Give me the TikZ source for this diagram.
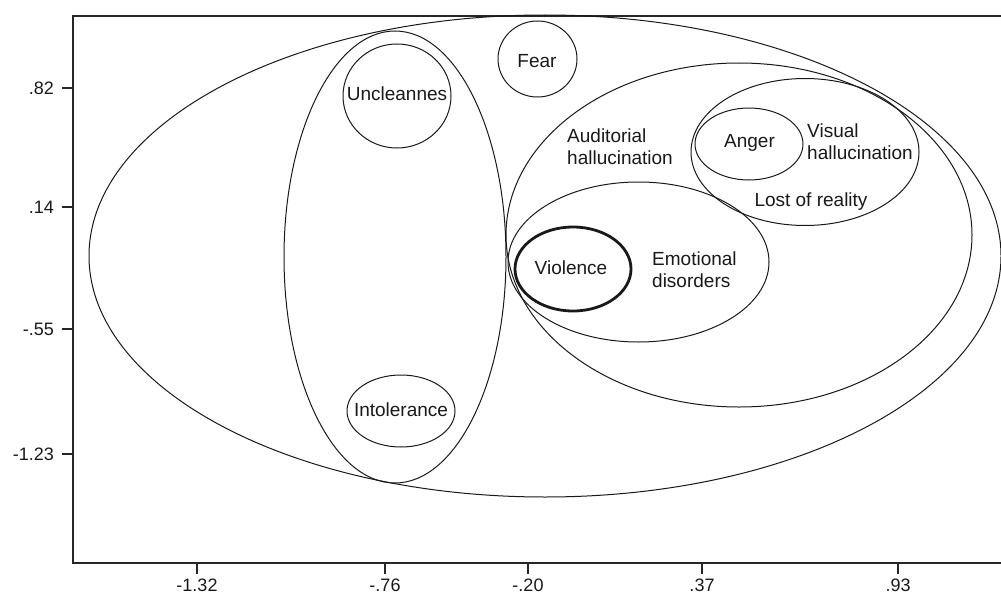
\documentclass[tikz,border=0pt]{standalone}
\usepackage{fontspec}
\setmainfont{Liberation Sans}
\usetikzlibrary{shapes.geometric}
\tikzset{
  ell/.style={draw=black!90, line width=1pt, ellipse, inner sep=0pt, outer sep=0pt},
  boldell/.style={ell, line width=2.8pt},
  lbl/.style={inner sep=0pt, font=\fontsize{19}{22}\selectfont, text=black!90},
  lbll/.style={lbl, align=left, anchor=west},
  axis/.style={line width=2.4pt, draw=black!85},
  tick/.style={line width=2.4pt, draw=black!85},
  ticklbl/.style={inner sep=0pt, font=\fontsize{18}{20}\selectfont, text=black!90}
}
\begin{document}
\begin{tikzpicture}[x=1pt,y=-1pt]
\useasboundingbox (0,0) rectangle (1001,594);
% axes
\coordinate (tr) at (1001,16);
\coordinate (tl) at (73,16);
\coordinate (bl) at (73,563);
\coordinate (br) at (1001,563);
\draw[axis] (tr) -- (tl) -- (bl) -- (br);
% y ticks
\foreach \yy/\tt [count=\i] in {88/.82, 207/.14, 329/-.55, 454/-1.23}{
  \coordinate (ya\i) at (73,\yy);
  \coordinate (yb\i) at (62,\yy);
  \draw[tick] (ya\i) -- (yb\i);
  \node[ticklbl, anchor=east] (yl\i) at (54,\yy) {\tt};
}
% x ticks
\foreach \xx/\tt [count=\i] in {197/-1.32, 385/-.76, 528/-.20, 702/.37, 898/.93}{
  \coordinate (xa\i) at (\xx,563);
  \coordinate (xb\i) at (\xx,574);
  \draw[tick] (xa\i) -- (xb\i);
  \node[ticklbl] (xl\i) at (\xx,585.5) {\tt};
}
% ellipses
\node[ell, minimum width=912pt, minimum height=482pt] (outer) at (545,256) {};
\node[ell, minimum width=222pt, minimum height=452pt] (vert) at (395,257) {};
\node[ell, minimum width=108pt, minimum height=104pt] (uncl) at (397,96) {};
\node[ell, minimum width=108pt, minimum height=72pt] (intol) at (401,411) {};
\node[ell, minimum width=79pt, minimum height=76pt] (fear) at (537.5,59) {};
\node[ell, minimum width=466pt, minimum height=344pt] (audit) at (739,235) {};
\node[ell, minimum width=228pt, minimum height=147pt] (visual) at (805,152) {};
\node[ell, minimum width=108pt, minimum height=72pt] (anger) at (749,144) {};
\node[ell, minimum width=261pt, minimum height=160pt] (emot) at (638.5,262) {};
\node[boldell, minimum width=116pt, minimum height=84pt] (viol) at (573,269) {};
% labels
\node[lbl] (tuncl) at (397,94) {Uncleannes};
\node[lbl] (tintol) at (401,410) {Intolerance};
\node[lbl] (tfear) at (537,61) {Fear};
\node[lbll] (taudit) at (567,147) {Auditorial\\hallucination};
\node[lbl] (tanger) at (749.5,143) {Anger};
\node[lbll] (tvisual) at (807,142) {Visual\\hallucination};
\node[lbl] (tlost) at (811,202) {Lost of reality};
\node[lbl] (tviol) at (571,268) {Violence};
\node[lbll] (temot) at (652,270) {Emotional\\disorders};
\end{tikzpicture}
\end{document}
